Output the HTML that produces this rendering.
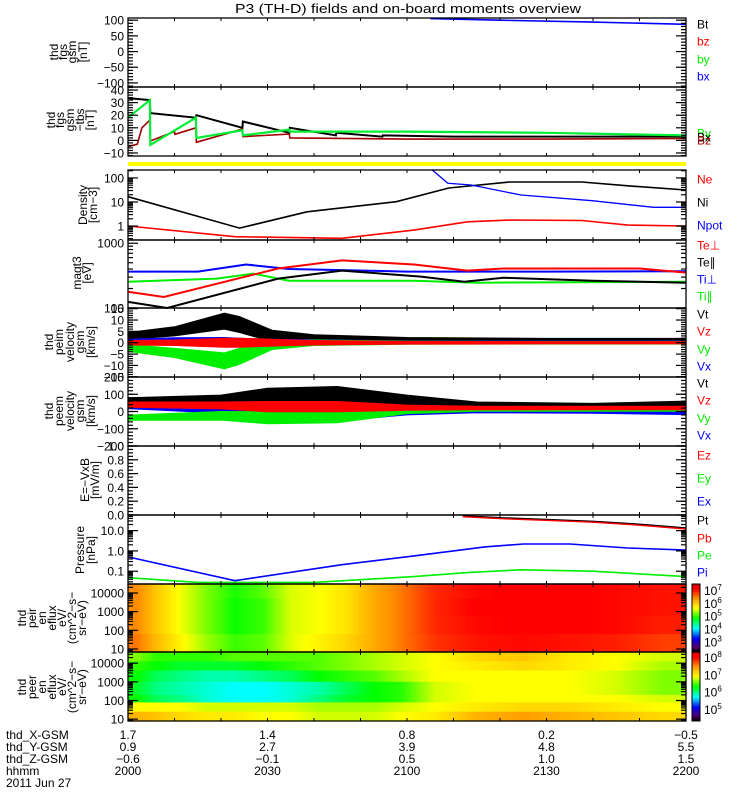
<!DOCTYPE html>
<html><head><meta charset="utf-8"><title>P3 (TH-D) overview</title>
<style>
html,body{margin:0;padding:0;background:#fff;}
svg{display:block;font-family:"Liberation Sans",sans-serif;}
text{font-size:12px;fill:#000;}
</style></head>
<body>
<svg id="chart" width="750" height="800" viewBox="0 0 750 800" xmlns="http://www.w3.org/2000/svg">
<rect x="0" y="0" width="750" height="800" fill="#fff"/>
<text x="408" y="13" text-anchor="middle" textLength="346" lengthAdjust="spacingAndGlyphs" style="font-size:13px">P3 (TH-D) fields and on-board moments overview</text>
<g id="layer"></g>
</svg>
<script>
// ---------- time axis (minutes after 20:00) ----------
const timeTicks = [0, 30, 60, 90, 120];
const hhmmLabels = ['2000', '2030', '2100', '2130', '2200'];
const xGsmLabels = ['1.7', '1.4', '0.8', '0.2', '-0.5'];
const yGsmLabels = ['0.9', '2.7', '3.9', '4.8', '5.5'];
const zGsmLabels = ['-0.6', '-0.1', '0.5', '1.0', '1.5'];

// ---------- panel 1: fgs gsm ----------
const p1BxT = [65, 80, 100, 120];
const p1BxV = [105, 100, 94, 87];

// ---------- panel 2: fgs gsm tbs (sawtooth) ----------
const p2BtT = [0, 4.7, 4.8, 14.6, 14.7, 24.6, 24.7, 34.7, 34.8, 44.7, 44.8, 54.7, 54.8, 70, 90, 120];
const p2BtV = [33.6, 32, 21.7, 18, 20, 10, 15, 6, 10, 4, 6, 3, 4, 3, 3, 3];
const p2ByT = [0, 4.7, 4.8, 14.6, 14.7, 24.6, 24.7, 34.7, 34.8, 60, 90, 120];
const p2ByV = [18, 32, -3.6, 18, 2, 8, 4, 8.6, 7, 7, 6, 4];
const p2BzT = [0, 2, 3, 4.7, 4.8, 10, 10.1, 14.6, 14.7, 24.6, 24.7, 34.7, 34.8, 60, 90, 120];
const p2BzV = [-5, -3, 10, 16, -0.5, 7, 4.8, 10, -1.5, 9, 3, 5, 2, 1, 1, 1.5];

// ---------- panel 3: density ----------
const p3NiT = [0, 24, 38.5, 57.7, 69, 82, 97.6, 107.5, 120];
const p3NiV = [16.6, 0.82, 3.9, 10.3, 38, 68, 68, 47, 31.6];
const p3NeT = [0, 23, 46, 61.5, 73, 82, 97.6, 107.5, 120];
const p3NeV = [1.0, 0.36, 0.31, 0.68, 1.5, 1.78, 1.7, 1.1, 1.0];
const p3NpotT = [65.4, 68.8, 73.8, 84.5, 99.8, 113, 120];
const p3NpotV = [215, 60, 51, 19.6, 11.3, 6, 6];

// ---------- panel 4: magt3 temperatures ----------
const p4TiPerpT = [0, 15, 25.4, 34.6, 60, 90, 120];
const p4TiPerpV = [365, 365, 470, 400, 365, 365, 370];
const p4TePerpT = [0, 7.7, 32.3, 46, 61.5, 73, 80.7, 110, 120];
const p4TePerpV = [178, 148, 407, 543, 470, 378, 407, 407, 352];
const p4TeParT = [0, 8.4, 32.3, 46, 63, 72.3, 80.7, 100, 120];
const p4TeParV = [124, 100, 284, 378, 305, 255, 294, 264, 246];
const p4TiParT = [0, 19.1, 26.9, 34.6, 61.5, 75, 120];
const p4TiParV = [255, 284, 340, 264, 264, 246, 255];

// ---------- panel 5: peim velocity (mean / spread) ----------
const p5T = [0, 10, 20.7, 24, 31, 40, 60, 90, 120];
const p5VtMean = [3, 5, 9.5, 8, 3, 2, 1.5, 1.3, 1.3];
const p5VtSpread = [1.5, 2, 3.5, 3.5, 2.5, 1.5, 0.8, 0.6, 0.6];
const p5VzMean = [0, 0, 0, 0, 0, 0, 0, 0, 0];
const p5VzSpread = [1, 1.2, 2, 2, 1.5, 1, 0.6, 0.5, 0.5];
const p5VyMean = [-2.3, -4.5, -8, -6, -1, 0, 0, 0, 0];
const p5VySpread = [1.5, 2, 3.5, 3.5, 2, 1.2, 0.7, 0.6, 0.6];
const p5VxMean = [0.5, 1, 0.8, 0.5, 0.3, 0.5, 0.3, 0.3, 0.4];
const p5VxSpread = [1, 1.2, 1.5, 1.5, 1.2, 0.8, 0.5, 0.4, 0.4];

// ---------- panel 6: peem velocity (mean / spread) ----------
const p6T = [0, 20, 30, 45, 60, 75, 100, 120];
const p6VtMean = [60, 70, 85, 90, 60, 40, 35, 45];
const p6VtSpread = [20, 25, 50, 55, 35, 15, 12, 15];
const p6VxMean = [28, 11, -20, -20, 0, 3, 0, -6];
const p6VxSpread = [12, 20, 35, 35, 20, 10, 10, 12];
const p6VyMean = [-36, -25, -36, -30, 3, 10, 10, 10];
const p6VySpread = [15, 25, 35, 35, 15, 8, 8, 8];
const p6VzMean = [40, 35, 28, 28, 22, 20, 20, 20];
const p6VzSpread = [15, 20, 30, 30, 15, 10, 10, 10];

// ---------- panel 8: pressure ----------
const p8PiT = [0, 23, 46, 61.5, 76.7, 85, 95, 107.5, 120];
const p8PiV = [0.51, 0.034, 0.21, 0.57, 1.57, 2.2, 2.2, 1.4, 1.1];
const p8PeT = [0, 15, 40, 61.5, 73, 84.5, 100, 120];
const p8PeV = [0.048, 0.028, 0.028, 0.054, 0.085, 0.118, 0.1, 0.054];
const p8PtT = [72, 80, 92, 100, 110, 120];
const p8PtV = [52, 42, 33, 28, 20, 13];

// ---------- spectrograms ----------
const specTimes = [2, 6, 11, 17, 23, 29, 35, 41, 47, 53, 59, 66, 75, 85, 95, 105, 115];
const ionEnergyEdges = [4.48, 3.7, 2.8, 1.8, 0.84];
const ionRow1 = [6.4, 6.0, 5.6, 5.2, 4.9, 5.1, 5.5, 5.6, 5.8, 6.2, 6.5, 6.85, 7.0, 7.05, 7.05, 7.0, 6.95];
const ionRow2 = [6.4, 6.0, 5.6, 5.2, 4.85, 5.0, 5.5, 5.6, 5.8, 6.2, 6.5, 6.85, 7.05, 7.05, 7.05, 7.0, 6.95];
const ionRow3 = [6.4, 6.0, 5.6, 5.2, 4.85, 5.0, 5.5, 5.6, 5.8, 6.2, 6.5, 6.85, 7.0, 7.05, 7.05, 7.0, 6.9];
const ionRow4 = [6.5, 6.1, 5.7, 5.3, 5.0, 5.1, 5.5, 5.7, 5.9, 6.2, 6.5, 6.8, 6.95, 7.0, 6.95, 6.9, 6.75];
const eleEnergyEdges = [4.6, 4.1, 3.6, 3.0, 2.3, 1.9, 1.4, 0.9];
const eleRow1 = [6.6, 6.4, 6.4, 6.4, 6.5, 6.5, 6.5, 6.5, 6.6, 6.7, 6.8, 6.9, 7.1, 7.2, 7.0, 6.9, 6.8];
const eleRow2 = [6.4, 6.3, 6.2, 6.2, 6.2, 6.3, 6.4, 6.5, 6.6, 6.7, 6.8, 6.9, 7.0, 7.1, 7.0, 6.9, 6.7];
const eleRow3 = [6.3, 6.1, 6.0, 5.9, 5.9, 6.0, 6.1, 6.3, 6.4, 6.5, 6.7, 6.9, 6.9, 6.9, 6.9, 6.8, 6.6];
const eleRow4 = [6.2, 6.0, 5.9, 5.8, 5.7, 5.7, 5.8, 5.9, 6.1, 6.3, 6.4, 6.8, 6.9, 6.9, 6.9, 6.8, 6.6];
const eleRow5 = [6.3, 6.1, 6.0, 5.8, 5.7, 5.7, 5.8, 6.0, 6.2, 6.3, 6.4, 6.8, 6.9, 6.9, 6.9, 6.9, 6.8];
const eleRow6 = [6.9, 6.9, 6.9, 6.8, 6.8, 6.8, 6.8, 6.7, 6.7, 6.7, 6.8, 6.9, 7.0, 7.1, 7.1, 7.0, 6.9];
const eleRow7 = [7.3, 7.2, 7.1, 7.0, 7.0, 6.9, 6.9, 6.8, 6.8, 6.8, 6.9, 7.0, 7.3, 7.4, 7.3, 7.2, 7.1];

// ================= rendering =================
const NS = 'http://www.w3.org/2000/svg';
const layer = document.getElementById('layer');
const X0 = 128, X1 = 686;
function X(t) { return X0 + (t / 120) * (X1 - X0); }
function mk(tag, attrs, parent) {
  const e = document.createElementNS(NS, tag);
  for (const k in attrs) e.setAttribute(k, attrs[k]);
  (parent || layer).appendChild(e);
  return e;
}
function linAxis(y0, y1, min, max) { return v => y1 - (v - min) / (max - min) * (y1 - y0); }
function logAxis(y0, y1, lmin, lmax) { return v => y1 - (Math.log10(v) - lmin) / (lmax - lmin) * (y1 - y0); }

const panels = {
  p1: { y0: 18, y1: 87 }, p2: { y0: 87, y1: 156 }, p3: { y0: 170, y1: 240 }, p4: { y0: 240, y1: 308 },
  p5: { y0: 308, y1: 377 }, p6: { y0: 377, y1: 446 }, p7: { y0: 446, y1: 515 }, p8: { y0: 515, y1: 584 },
  p9: { y0: 584, y1: 652 }, p10: { y0: 652, y1: 721 }
};
const Y1 = linAxis(18, 87, -113, 107);
const Y2 = linAxis(87, 156, -12.4, 42.4);
const Y3 = logAxis(170, 240, -0.58, 2.33);
const Y4 = logAxis(240, 308, 2, 3.05);
const Y5 = linAxis(308, 377, -15.1, 15.3);
const Y6 = linAxis(377, 446, -200, 200);
const Y7 = linAxis(446, 515, 0, 1);
const Y8 = logAxis(515, 584, -1.63, 1.77);
const YE9 = v => 584 + (4.48 - v) / (4.48 - 0.84) * 68;
const YE10 = v => 652 + (4.6 - v) / (4.6 - 0.9) * 69;

function line(ts, vs, Y, color, name, w) {
  const pts = ts.map((t, i) => X(t).toFixed(1) + ',' + Y(vs[i]).toFixed(1)).join(' ');
  const el = mk('polyline', { points: pts, fill: 'none', stroke: color, 'stroke-width': w || 1.6 });
  
  
}
function band(ts, mean, spr, Y, color, name) {
  const up = ts.map((t, i) => X(t).toFixed(1) + ',' + Y(mean[i] + spr[i]).toFixed(1));
  const dn = ts.map((t, i) => X(t).toFixed(1) + ',' + Y(mean[i] - spr[i]).toFixed(1)).reverse();
  const el = mk('polygon', { points: up.concat(dn).join(' '), fill: color, stroke: color, 'stroke-width': 1 });
  
  
}

// colormap
const cmapStops = [[0, [0, 0, 0]], [0.08, [80, 0, 110]], [0.2, [0, 0, 255]], [0.35, [0, 255, 255]], [0.5, [0, 255, 0]], [0.65, [255, 255, 0]], [0.8, [255, 140, 0]], [0.92, [255, 0, 0]], [0.97, [255, 0, 0]], [1, [190, 0, 0]]];
function cmap(f) {
  f = Math.max(0, Math.min(1, f));
  for (let i = 1; i < cmapStops.length; i++) {
    if (f <= cmapStops[i][0]) {
      const a = cmapStops[i - 1], b = cmapStops[i], u = (f - a[0]) / (b[0] - a[0]);
      const c = a[1].map((v, k) => Math.round(v + (b[1][k] - v) * u));
      return 'rgb(' + c.join(',') + ')';
    }
  }
  return 'rgb(190,0,0)';
}
function valueAt(row, t) {
  if (t <= specTimes[0]) return row[0];
  for (let i = 1; i < specTimes.length; i++) {
    if (t <= specTimes[i]) { const u = (t - specTimes[i - 1]) / (specTimes[i] - specTimes[i - 1]); return row[i - 1] + (row[i] - row[i - 1]) * u; }
  }
  return row[row.length - 1];
}
function spectro(rows, edges, YE, vmin, vmax, name) {
  const g = mk('g', {});
  
  
  for (let r = 0; r < rows.length; r++) {
    const ya = YE(edges[r]), yb = YE(edges[r + 1]);
    for (let px = X0; px < X1; px += 3) {
      const t = (px + 1.5 - X0) / (X1 - X0) * 120;
      const v = valueAt(rows[r], t);
      mk('rect', { x: px, y: ya.toFixed(1), width: 3.3, height: (yb - ya + 0.4).toFixed(1), fill: cmap((v - vmin) / (vmax - vmin)) }, g);
    }
  }
}

// ---- draw data ----
spectro([ionRow1, ionRow2, ionRow3, ionRow4], ionEnergyEdges, YE9, 2.2, 7.45, 'ion-energy-spectrogram');
spectro([eleRow1, eleRow2, eleRow3, eleRow4, eleRow5, eleRow6, eleRow7], eleEnergyEdges, YE10, 4.3, 8.3, 'electron-energy-spectrogram');

line(p1BxT, p1BxV, Y1, '#0000ff', 'bx-line');
line(p2BtT, p2BtV, Y2, '#000', 'bt-tbs-line', 2);
line(p2BzT, p2BzV, Y2, '#a00000', 'bz-tbs-line', 1.6);
line(p2ByT, p2ByV, Y2, '#00ee33', 'by-tbs-line', 2.2);
mk('rect', { x: X0, y: 162, width: X1 - X0, height: 4, fill: '#ffff00',  });
line(p3NiT, p3NiV, Y3, '#000', 'ni-line');
line(p3NeT, p3NeV, Y3, '#ff0000', 'ne-line');
line(p3NpotT, p3NpotV, Y3, '#0000ff', 'npot-line', 1.3);
line(p4TiPerpT, p4TiPerpV, Y4, '#0000ff', 'ti-perp-line', 2);
line(p4TiParT, p4TiParV, Y4, '#00ee00', 'ti-par-line', 2);
line(p4TePerpT, p4TePerpV, Y4, '#ff0000', 'te-perp-line', 2);
line(p4TeParT, p4TeParV, Y4, '#000', 'te-par-line', 2);
band(p5T, p5VtMean, p5VtSpread, Y5, '#000', 'vt-ion-band');
band(p5T, p5VxMean, p5VxSpread, Y5, '#0000ff', 'vx-ion-band');
band(p5T, p5VyMean, p5VySpread, Y5, '#00ee00', 'vy-ion-band');
band(p5T, p5VzMean, p5VzSpread, Y5, '#ff0000', 'vz-ion-band');
band(p6T, p6VtMean, p6VtSpread, Y6, '#000', 'vt-ele-band');
band(p6T, p6VxMean, p6VxSpread, Y6, '#0000ff', 'vx-ele-band');
band(p6T, p6VyMean, p6VySpread, Y6, '#00ee00', 'vy-ele-band');
band(p6T, p6VzMean, p6VzSpread, Y6, '#ff0000', 'vz-ele-band');
line(p8PtT, p8PtV, Y8, '#000', 'pt-line', 2);
line(p8PtT, p8PtV.map(v => v * 0.93), Y8, '#ff0000', 'pb-line', 1.4);
line(p8PiT, p8PiV, Y8, '#0000ff', 'pi-line', 1.6);
line(p8PeT, p8PeV, Y8, '#00ee00', 'pe-line', 1.6);

// ---- frames & ticks ----
function frame(p, name) {
  const el = mk('rect', { x: X0, y: p.y0, width: X1 - X0, height: p.y1 - p.y0, fill: 'none', stroke: '#000', 'stroke-width': 1.3 });
  
  
  for (let t = 0; t <= 120; t += 10) {
    mk('line', { x1: X(t), x2: X(t), y1: p.y0, y2: p.y0 + 3, stroke: '#000' });
    mk('line', { x1: X(t), x2: X(t), y1: p.y1, y2: p.y1 - 3, stroke: '#000' });
  }
}
function yTick(y, len) {
  mk('line', { x1: X0, x2: X0 + len, y1: y, y2: y, stroke: '#000', 'stroke-width': 1.2 });
  mk('line', { x1: X1, x2: X1 - len, y1: y, y2: y, stroke: '#000', 'stroke-width': 1.2 });
}
function yLabel(y, s) {
  const el = mk('text', { x: 124, y: y + 4.5, 'text-anchor': 'end' });
  el.textContent = s;
  
  
}
function linTicks(p, Y, majors, labels, minStep, min, max) {
  for (let v = min; v <= max + 1e-9; v += minStep) { const y = Y(v); if (y >= p.y0 && y <= p.y1) yTick(y, 5); }
  majors.forEach((v, i) => { yTick(Y(v), 10); yLabel(Y(v), labels[i]); });
}
function logTicks(p, Y, dmin, dmax, majors, labels) {
  for (let d = dmin; d <= dmax; d++) for (let m = 1; m < 10; m++) {
    const y = Y(m * Math.pow(10, d)); if (y >= p.y0 - 0.5 && y <= p.y1 + 0.5) yTick(y, m === 1 ? 10 : 5);
  }
  majors.forEach((v, i) => yLabel(Y(v), labels[i]));
}
Object.keys(panels).forEach(k => frame(panels[k], k + '-frame'));
linTicks(panels.p1, Y1, [100, 50, 0, -50, -100], ['100', '50', '0', '\u221250', '\u2212100'], 10, -110, 100);
linTicks(panels.p2, Y2, [40, 30, 20, 10, 0, -10], ['40', '30', '20', '10', '0', '\u221210'], 2, -12, 42);
logTicks(panels.p3, Y3, -1, 2, [100, 10, 1], ['100', '10', '1']);
logTicks(panels.p4, Y4, 2, 3, [1000, 100], ['1000', '100']);
linTicks(panels.p5, Y5, [15, 10, 5, 0, -5, -10, -15], ['15', '10', '5', '0', '\u22125', '\u221210', '\u221215'], 1, -15, 15);
linTicks(panels.p6, Y6, [200, 100, 0, -100, -200], ['200', '100', '0', '\u2212100', '\u2212200'], 20, -200, 200);
linTicks(panels.p7, Y7, [1, 0.8, 0.6, 0.4, 0.2, 0], ['1.0', '0.8', '0.6', '0.4', '0.2', '0.0'], 0.05, 0, 1);
logTicks(panels.p8, Y8, -2, 1, [10, 1, 0.1], ['10.0', '1.0', '0.1']);
const YEl9 = v => YE9(Math.log10(v)), YEl10 = v => YE10(Math.log10(v));
logTicks(panels.p9, YEl9, 0, 4, [10000, 1000, 100, 10], ['10000', '1000', '100', '10']);
logTicks(panels.p10, YEl10, 0, 4, [10000, 1000, 100, 10], ['10000', '1000', '100', '10']);

// ---- y-axis titles (rotated lines) ----
function ytitle(lines, xs, yc, name) {
  const g = mk('g', {});
  
  
  lines.forEach((s, i) => {
    const t = mk('text', { x: 0, y: 0, 'text-anchor': 'middle', transform: 'translate(' + xs[i] + ',' + yc + ') rotate(-90)' }, g);
    t.textContent = s;
  });
}
ytitle(['thd', 'fgs', 'gsm', '[nT]'], [58, 67, 76, 87], 52, 'p1-y-title');
ytitle(['thd', 'fgs', 'gsm', '\u2212tbs', '[nT]'], [55, 64, 74, 84, 94], 120, 'p2-y-title');
ytitle(['Density', '[cm\u22123]'], [87, 97], 205, 'p3-y-title');
ytitle(['magt3', '[eV]'], [81, 91], 273, 'p4-y-title');
ytitle(['thd', 'peim', 'velocity', 'gsm', '[km/s]'], [53, 63, 74, 84, 95], 342, 'p5-y-title');
ytitle(['thd', 'peem', 'velocity', 'gsm', '[km/s]'], [53, 63, 74, 84, 95], 411, 'p6-y-title');
ytitle(['E=\u2212VxB', '[mV/m]'], [89, 99], 480, 'p7-y-title');
ytitle(['Pressure', '[nPa]'], [84, 95], 550, 'p8-y-title');
ytitle(['thd', 'peir', 'en', 'eflux', 'eV/', '(cm^2\u2212s\u2212', 'sr\u2212eV)'], [26, 36, 46, 56, 66, 76, 86], 618, 'p9-y-title');
ytitle(['thd', 'peer', 'en', 'eflux', 'eV/', '(cm^2\u2212s\u2212', 'sr\u2212eV)'], [26, 36, 46, 56, 66, 76, 86], 687, 'p10-y-title');

// ---- legends ----
const legendNames = ['Bt', 'bz', 'by', 'bx', 'By', 'Bx', 'Bz', 'Ne', 'Ni', 'Npot', 'Te\u22a5', 'Te\u2225', 'Ti\u22a5', 'Ti\u2225', 'Vt', 'Vz', 'Vy', 'Vx', 'Vt', 'Vz', 'Vy', 'Vx', 'Ez', 'Ey', 'Ex', 'Pt', 'Pb', 'Pe', 'Pi'];
const legendY = [24, 41, 59, 76, 133, 137, 140, 179, 202, 225, 245, 262, 279, 296, 314, 331, 349, 366, 383, 400, 418, 435, 455, 478, 501, 520, 538, 555, 572];
const legendColors = ['#000', '#ff0000', '#00ee00', '#0000ff', '#00ee00', '#000', '#a00000', '#ff0000', '#000', '#0000ff', '#ff0000', '#000', '#0000ff', '#00ee00', '#000', '#ff0000', '#00ee00', '#0000ff', '#000', '#ff0000', '#00ee00', '#0000ff', '#ff0000', '#00ee00', '#0000ff', '#000', '#ff0000', '#00ee00', '#0000ff'];
legendNames.forEach((s, i) => {
  const t = mk('text', { x: 697, y: legendY[i] + 4.5, style: 'fill:' + legendColors[i] });
  t.textContent = s;
  
  
});

// ---- colorbars ----
function colorbar(y0, y1, lmin, lmax, labelsExp, name) {
  const g = mk('g', {});
  
  
  const n = 34;
  for (let i = 0; i < n; i++) {
    const h = (y1 - y0) / n;
    mk('rect', { x: 692, y: (y1 - (i + 1) * h).toFixed(2), width: 8, height: (h + 0.3).toFixed(2), fill: cmap((i + 0.5) / n) }, g);
  }
  mk('rect', { x: 692, y: y0, width: 8, height: y1 - y0, fill: 'none', stroke: '#000' }, g);
  labelsExp.forEach(e => {
    const y = y1 - (e - lmin) / (lmax - lmin) * (y1 - y0);
    const t = mk('text', { x: 704, y: y + 5 }, g);
    t.textContent = '10';
    const s = mk('tspan', { dy: -5, style: 'font-size:8px' }, t);
    s.textContent = String(e);
  });
}
colorbar(584, 652, 2.2, 7.45, [7, 6, 5, 4, 3], 'ion-colorbar');
colorbar(652, 721, 4.3, 8.3, [8, 7, 6, 5], 'electron-colorbar');

// ---- bottom labels ----
const rowNames = ['thd_X-GSM', 'thd_Y-GSM', 'thd_Z-GSM', 'hhmm'];
const rowY = [739, 751, 763, 775];
const rowVals = [xGsmLabels, yGsmLabels, zGsmLabels, hhmmLabels];
rowNames.forEach((s, r) => {
  const t = mk('text', { x: 6, y: rowY[r] });
  t.textContent = s;
  
  
  timeTicks.forEach((tt, i) => {
    const v = mk('text', { x: X(tt), y: rowY[r], 'text-anchor': 'middle' });
    v.textContent = rowVals[r][i].replace('-', '\u2212');
    
    
  });
});
const dt = mk('text', { x: 6, y: 787 });
dt.textContent = '2011 Jun 27';


</script>
</body></html>
